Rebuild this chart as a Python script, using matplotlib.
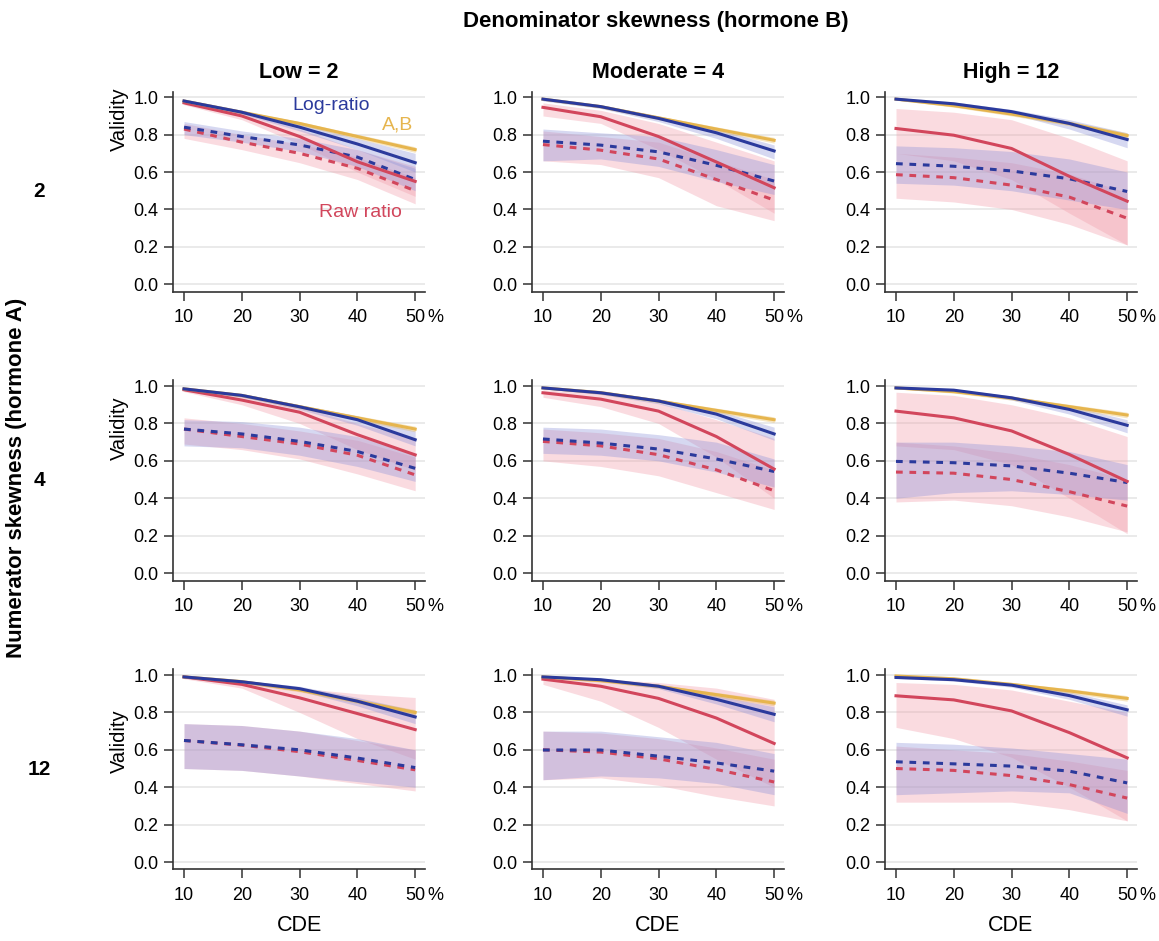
import matplotlib
matplotlib.use('Agg')
import matplotlib.pyplot as plt

plt.rcParams['font.family'] = ['Liberation Sans', 'DejaVu Sans']

cde = [10, 20, 30, 40, 50]
cde_ticks = ['10', '20', '30', '40', '50']
col_titles = ['Low = 2', 'Moderate = 4', 'High = 12']
row_titles = ['2', '4', '12']

# five values per panel (CDE 10..50), panels in reading order:
# rows = numerator skewness, columns = denominator skewness
ab_mid = [[0.98, 0.92, 0.86, 0.79, 0.72], [0.99, 0.95, 0.89, 0.83, 0.77], [0.99, 0.955, 0.91, 0.86, 0.795],
          [0.985, 0.95, 0.89, 0.83, 0.77], [0.99, 0.965, 0.92, 0.87, 0.82], [0.99, 0.97, 0.935, 0.89, 0.845],
          [0.99, 0.965, 0.92, 0.86, 0.80], [0.99, 0.97, 0.94, 0.895, 0.85], [0.995, 0.98, 0.95, 0.915, 0.875]]
ab_lo = [[0.975, 0.912, 0.85, 0.778, 0.705], [0.985, 0.942, 0.88, 0.818, 0.755], [0.985, 0.947, 0.90, 0.848, 0.78],
         [0.98, 0.942, 0.88, 0.818, 0.755], [0.985, 0.957, 0.91, 0.858, 0.805], [0.985, 0.962, 0.925, 0.878, 0.83],
         [0.985, 0.957, 0.91, 0.848, 0.785], [0.985, 0.962, 0.93, 0.883, 0.835], [0.99, 0.972, 0.94, 0.903, 0.86]]
ab_hi = [[0.985, 0.928, 0.87, 0.802, 0.735], [0.995, 0.958, 0.90, 0.842, 0.785], [0.995, 0.963, 0.92, 0.872, 0.81],
         [0.99, 0.958, 0.90, 0.842, 0.785], [0.995, 0.973, 0.93, 0.882, 0.835], [0.995, 0.978, 0.945, 0.902, 0.86],
         [0.995, 0.973, 0.93, 0.872, 0.815], [0.995, 0.978, 0.95, 0.907, 0.865], [1.0, 0.988, 0.96, 0.927, 0.89]]

log_mid = [[0.98, 0.92, 0.84, 0.75, 0.65], [0.99, 0.95, 0.887, 0.81, 0.713], [0.99, 0.965, 0.923, 0.86, 0.774],
           [0.985, 0.95, 0.889, 0.82, 0.713], [0.99, 0.964, 0.92, 0.85, 0.744], [0.99, 0.978, 0.937, 0.875, 0.79],
           [0.99, 0.964, 0.927, 0.86, 0.776], [0.99, 0.975, 0.94, 0.87, 0.79], [0.987, 0.975, 0.946, 0.89, 0.814]]
log_lo = [[0.97, 0.91, 0.82, 0.72, 0.60], [0.98, 0.94, 0.87, 0.78, 0.67], [0.985, 0.955, 0.91, 0.83, 0.73],
          [0.98, 0.94, 0.875, 0.79, 0.68], [0.985, 0.955, 0.905, 0.825, 0.71], [0.985, 0.97, 0.925, 0.85, 0.75],
          [0.985, 0.955, 0.915, 0.835, 0.74], [0.985, 0.967, 0.927, 0.845, 0.75], [0.982, 0.968, 0.935, 0.87, 0.78]]
log_hi = [[0.99, 0.93, 0.86, 0.78, 0.70], [0.995, 0.96, 0.90, 0.83, 0.745], [0.995, 0.975, 0.935, 0.88, 0.81],
          [0.99, 0.96, 0.90, 0.84, 0.76], [0.995, 0.972, 0.932, 0.87, 0.78], [0.995, 0.985, 0.948, 0.895, 0.82],
          [0.995, 0.972, 0.94, 0.88, 0.81], [0.995, 0.982, 0.952, 0.89, 0.83], [0.993, 0.982, 0.956, 0.91, 0.84]]

raw_mid = [[0.97, 0.90, 0.79, 0.655, 0.55], [0.946, 0.896, 0.79, 0.654, 0.516], [0.833, 0.797, 0.726, 0.577, 0.444],
           [0.98, 0.925, 0.86, 0.74, 0.632], [0.964, 0.93, 0.866, 0.73, 0.556], [0.866, 0.83, 0.76, 0.634, 0.49],
           [0.99, 0.95, 0.878, 0.794, 0.708], [0.978, 0.94, 0.875, 0.77, 0.634], [0.889, 0.867, 0.808, 0.692, 0.557]]
raw_lo = [[0.96, 0.88, 0.75, 0.60, 0.47], [0.90, 0.86, 0.72, 0.56, 0.38], [0.70, 0.66, 0.56, 0.38, 0.21],
          [0.97, 0.90, 0.80, 0.66, 0.55], [0.94, 0.89, 0.80, 0.62, 0.40], [0.68, 0.66, 0.58, 0.40, 0.21],
          [0.98, 0.93, 0.80, 0.66, 0.55], [0.95, 0.86, 0.72, 0.55, 0.40], [0.72, 0.66, 0.56, 0.40, 0.22]]
raw_hi = [[0.98, 0.92, 0.83, 0.72, 0.63], [0.97, 0.93, 0.86, 0.76, 0.66], [0.94, 0.92, 0.88, 0.78, 0.66],
          [0.99, 0.95, 0.89, 0.80, 0.72], [0.98, 0.96, 0.91, 0.82, 0.72], [0.967, 0.95, 0.90, 0.83, 0.73],
          [1.0, 0.97, 0.93, 0.90, 0.88], [0.99, 0.98, 0.96, 0.93, 0.87], [0.96, 0.95, 0.92, 0.86, 0.80]]

logd_mid = [[0.84, 0.79, 0.745, 0.68, 0.56], [0.765, 0.744, 0.708, 0.636, 0.552], [0.645, 0.631, 0.606, 0.564, 0.496],
            [0.77, 0.744, 0.704, 0.65, 0.56], [0.717, 0.695, 0.663, 0.61, 0.543], [0.597, 0.59, 0.573, 0.534, 0.484],
            [0.65, 0.627, 0.60, 0.556, 0.505], [0.599, 0.599, 0.566, 0.53, 0.486], [0.536, 0.525, 0.513, 0.486, 0.423]]
logd_lo = [[0.80, 0.76, 0.71, 0.63, 0.50], [0.66, 0.67, 0.63, 0.55, 0.48], [0.54, 0.53, 0.50, 0.45, 0.40],
           [0.68, 0.67, 0.63, 0.57, 0.49], [0.64, 0.63, 0.60, 0.54, 0.46], [0.40, 0.43, 0.44, 0.42, 0.39],
           [0.50, 0.49, 0.46, 0.43, 0.40], [0.44, 0.46, 0.45, 0.42, 0.36], [0.36, 0.37, 0.38, 0.37, 0.26]]
logd_hi = [[0.87, 0.82, 0.78, 0.72, 0.62], [0.83, 0.81, 0.79, 0.72, 0.64], [0.74, 0.73, 0.71, 0.67, 0.60],
           [0.82, 0.81, 0.78, 0.73, 0.64], [0.78, 0.77, 0.74, 0.70, 0.61], [0.70, 0.70, 0.68, 0.65, 0.58],
           [0.74, 0.73, 0.70, 0.66, 0.60], [0.70, 0.70, 0.67, 0.64, 0.58], [0.64, 0.63, 0.61, 0.58, 0.55]]

rawd_mid = [[0.83, 0.76, 0.70, 0.62, 0.50], [0.747, 0.717, 0.67, 0.56, 0.45], [0.586, 0.57, 0.53, 0.466, 0.353],
            [0.77, 0.73, 0.69, 0.63, 0.525], [0.704, 0.68, 0.633, 0.552, 0.44], [0.54, 0.534, 0.50, 0.435, 0.358],
            [0.65, 0.625, 0.59, 0.543, 0.493], [0.60, 0.588, 0.552, 0.495, 0.428], [0.50, 0.49, 0.462, 0.414, 0.342]]
rawd_lo = [[0.78, 0.72, 0.65, 0.56, 0.43], [0.66, 0.64, 0.57, 0.42, 0.34], [0.46, 0.44, 0.40, 0.32, 0.21],
           [0.69, 0.66, 0.61, 0.53, 0.44], [0.60, 0.57, 0.52, 0.43, 0.34], [0.38, 0.39, 0.36, 0.30, 0.22],
           [0.50, 0.49, 0.46, 0.42, 0.38], [0.44, 0.45, 0.41, 0.35, 0.30], [0.32, 0.32, 0.32, 0.28, 0.22]]
rawd_hi = [[0.86, 0.80, 0.75, 0.68, 0.57], [0.82, 0.79, 0.76, 0.66, 0.56], [0.70, 0.68, 0.65, 0.59, 0.49],
           [0.83, 0.80, 0.76, 0.71, 0.62], [0.77, 0.75, 0.72, 0.65, 0.55], [0.70, 0.68, 0.64, 0.58, 0.50],
           [0.74, 0.73, 0.70, 0.65, 0.60], [0.70, 0.69, 0.66, 0.61, 0.55], [0.62, 0.60, 0.58, 0.54, 0.49]]

YEL = '#E6B54E'
BLUE = '#2B3A9C'
RED = '#D2465C'
PINK = '#F19AA8'
LAV = '#8A90D8'

fig = plt.figure(figsize=(11.59, 9.41), dpi=100)
lefts = [0.1493, 0.459, 0.7636]
bottoms = [0.690, 0.3831, 0.076]
w, h = 0.2174, 0.2126
ylabel_y = [0.86, 0.76, 0.64]

for r in range(3):
    for c in range(3):
        i = r * 3 + c
        ax = fig.add_axes([lefts[c], bottoms[r], w, h])
        # bands
        ax.fill_between(cde, rawd_lo[i], rawd_hi[i], color=PINK, alpha=0.35, lw=0)
        ax.fill_between(cde, raw_lo[i], raw_hi[i], color=PINK, alpha=0.35, lw=0)
        ax.fill_between(cde, logd_lo[i], logd_hi[i], color=LAV, alpha=0.35, lw=0)
        ax.fill_between(cde, log_lo[i], log_hi[i], color=LAV, alpha=0.35, lw=0)
        ax.fill_between(cde, ab_lo[i], ab_hi[i], color=YEL, alpha=0.35, lw=0)
        # lines
        ax.plot(cde, rawd_mid[i], color=RED, lw=2.2, dashes=(2.2, 2.2))
        ax.plot(cde, logd_mid[i], color=BLUE, lw=2.2, dashes=(2.2, 2.2))
        ax.plot(cde, raw_mid[i], color=RED, lw=2.2)
        ax.plot(cde, ab_mid[i], color=YEL, lw=2.2)
        ax.plot(cde, log_mid[i], color=BLUE, lw=2.2)

        ax.set_xlim(8.1, 51.7)
        ax.set_ylim(-0.04, 1.03)
        ax.set_yticks([0, 0.2, 0.4, 0.6, 0.8, 1.0])
        ax.set_yticklabels(['0.0', '0.2', '0.4', '0.6', '0.8', '1.0'])
        ax.set_xticks(cde)
        ax.set_xticklabels(cde_ticks)
        ax.tick_params(labelsize=13, length=6.5, width=1.1, color='#333333')
        ax.tick_params(axis='x', pad=6)
        ax.tick_params(axis='y', pad=4)
        ax.grid(axis='y', color='#e6e6e6', lw=1.2)
        ax.set_axisbelow(True)
        for s in ['top', 'right']:
            ax.spines[s].set_visible(False)
        for s in ['left', 'bottom']:
            ax.spines[s].set_linewidth(1.2)
            ax.spines[s].set_color('#333333')
        ax.annotate('%', xy=(50, 0), xycoords=('data', 'axes fraction'),
                    xytext=(8.5, -12.5), textcoords='offset points',
                    ha='left', va='top', fontsize=13)
        if c == 0:
            ax.set_ylabel('Validity', fontsize=14.5)
            ax.yaxis.set_label_coords(-0.176, ylabel_y[r])
            ax.text(-0.53, 0.5, row_titles[r], transform=ax.transAxes,
                    fontsize=15, fontweight='bold', ha='center', va='center')
        if r == 0:
            ax.text(0.5, 1.0975, col_titles[c], transform=ax.transAxes,
                    fontsize=15.5, fontweight='bold', ha='center', va='center')
        if r == 2:
            ax.set_xlabel('CDE', fontsize=15.5, labelpad=8)
        if i == 0:
            ax.text(35.5, 0.955, 'Log-ratio', color=BLUE, fontsize=14, ha='center', va='center')
            ax.text(46.9, 0.85, 'A,B', color=YEL, fontsize=14, ha='center', va='center')
            ax.text(40.5, 0.385, 'Raw ratio', color=RED, fontsize=14, ha='center', va='center')

fig.text(0.566, 0.977, 'Denominator skewness (hormone B)', fontsize=16,
         fontweight='bold', ha='center', va='center')
fig.text(0.014, 0.492, 'Numerator skewness (hormone A)', fontsize=16,
         fontweight='bold', rotation=90, ha='center', va='center')

fig.savefig('out.png', dpi=100)
